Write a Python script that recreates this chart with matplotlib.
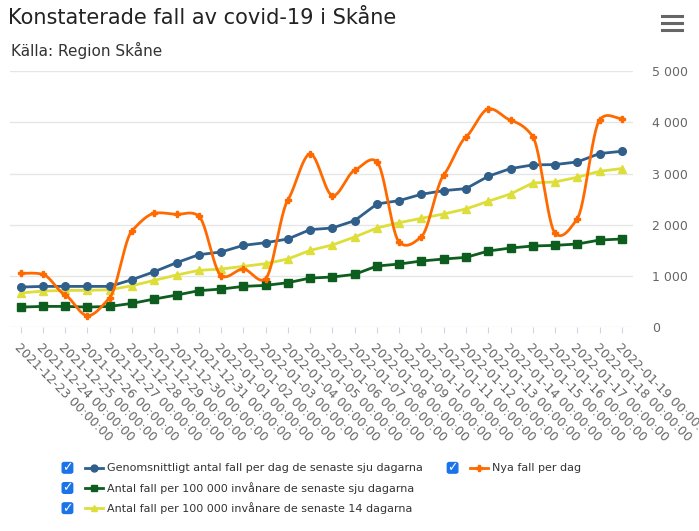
import numpy as np
import matplotlib.pyplot as plt
from matplotlib.patches import FancyBboxPatch
from matplotlib.ticker import FuncFormatter

dates = ["2021-12-23", "2021-12-24", "2021-12-25", "2021-12-26", "2021-12-27", "2021-12-28",
         "2021-12-29", "2021-12-30", "2021-12-31", "2022-01-01", "2022-01-02", "2022-01-03",
         "2022-01-04", "2022-01-05", "2022-01-06", "2022-01-07", "2022-01-08", "2022-01-09",
         "2022-01-10", "2022-01-11", "2022-01-12", "2022-01-13", "2022-01-14", "2022-01-15",
         "2022-01-16", "2022-01-17", "2022-01-18", "2022-01-19"]
labels = [d + " 00:00:00" for d in dates]

snitt7 = [782, 795, 795, 795, 795, 926, 1082, 1258, 1414, 1467, 1597, 1649, 1721, 1904,
          1936, 2080, 2405, 2471, 2595, 2666, 2705, 2947, 3097, 3168, 3175, 3227, 3390, 3435]
nya = [1050, 1030, 626, 222, 574, 1884, 2223, 2203, 2171, 1004, 1134, 945, 2484, 3383,
       2568, 3064, 3233, 1656, 1767, 2973, 3716, 4263, 4042, 3722, 1832, 2119, 4048, 4074]
per100k_7 = [391, 404, 404, 391, 404, 463, 548, 626, 711, 743, 795, 815, 867, 958,
             978, 1030, 1193, 1232, 1291, 1330, 1362, 1486, 1545, 1584, 1597, 1623, 1701, 1721]
per100k_14 = [665, 704, 717, 717, 730, 808, 913, 1017, 1108, 1134, 1186, 1239, 1330, 1499,
              1604, 1760, 1936, 2040, 2125, 2210, 2308, 2458, 2601, 2816, 2836, 2927, 3044, 3097]


def spline(y, n=12, k=0.55):
    # hermite-kurva bara for att rita linjen mjukt (k = spanning)
    y = np.asarray(y, float)
    p = np.concatenate([[y[0]], y, [y[-1]]])
    m = k * (p[2:] - p[:-2]) / 2
    xs, ys = [], []
    for i in range(len(y) - 1):
        t = np.linspace(0, 1, n, endpoint=False)
        h00 = 2 * t ** 3 - 3 * t ** 2 + 1
        h10 = t ** 3 - 2 * t ** 2 + t
        h01 = -2 * t ** 3 + 3 * t ** 2
        h11 = t ** 3 - t ** 2
        xs.extend(i + t)
        ys.extend(h00 * y[i] + h10 * m[i] + h01 * y[i + 1] + h11 * m[i + 1])
    xs.append(len(y) - 1)
    ys.append(y[-1])
    return xs, ys


c_blue = "#2f5f8a"
c_orange = "#ff6a00"
c_green = "#0d5e1e"
c_yellow = "#dede3a"

fig = plt.figure(figsize=(6.99, 5.31), dpi=100)
ax = fig.add_axes([0.0136, 0.384, 0.892, 0.482])
x = np.arange(len(dates))

ax.plot(x, per100k_14, color=c_yellow, lw=2, marker="^", ms=5.5, zorder=3)
ax.plot(x, per100k_7, color=c_green, lw=2, marker="s", ms=5.5, zorder=3)
ax.plot(x, snitt7, color=c_blue, lw=2, marker="o", ms=5.5, zorder=3)
sx, sy = spline(nya)
ax.plot(sx, sy, color=c_orange, lw=2, zorder=4)
ax.plot(x, nya, ls="none", color=c_orange, marker="P", ms=5, zorder=4)

ax.set_xlim(-0.5, len(dates) - 0.5)
ax.set_ylim(0, 5000)
ax.set_yticks(range(0, 5001, 1000))
ax.yaxis.set_major_formatter(FuncFormatter(lambda v, p: f"{int(v):,}".replace(",", " ")))
ax.yaxis.tick_right()
ax.tick_params(axis="y", length=0, labelsize=9, colors="#666666", pad=14)
ax.grid(axis="y", color="#e6e6e6", lw=1)
ax.set_axisbelow(True)
for s in ax.spines.values():
    s.set_visible(False)
ax.set_xticks(x)
ax.set_xticklabels(labels, rotation=-45, ha="left", rotation_mode="anchor",
                   fontsize=9, color="#666666")
ax.tick_params(axis="x", length=4, color="#ccd6eb", pad=6)

fig.text(0.012, 0.955, "Konstaterade fall av covid-19 i Skåne", fontsize=15, color="#222222")
fig.text(0.016, 0.895, "Källa: Region Skåne", fontsize=11, color="#333333")
for dy in (0.0, 0.013, 0.026):
    fig.add_artist(plt.Line2D([0.947, 0.975], [0.943 + dy, 0.943 + dy], color="#666666", lw=2.2))

# legend med kryssrutor
items = [(0.147, 0.121, c_blue, "o", "Genomsnittligt antal fall per dag de senaste sju dagarna"),
         (0.147, 0.083, c_green, "s", "Antal fall per 100 000 invånare de senaste sju dagarna"),
         (0.147, 0.045, c_yellow, "^", "Antal fall per 100 000 invånare de senaste 14 dagarna"),
         (0.698, 0.121, c_orange, "P", "Nya fall per dag")]
for lx, ly, col, mk, txt in items:
    fig.add_artist(FancyBboxPatch((lx - 0.058, ly - 0.012), 0.015, 0.02,
                                  boxstyle="round,pad=0,rounding_size=0.003",
                                  fc="#1a73e8", ec="#1a73e8", transform=fig.transFigure))
    fig.text(lx - 0.0505, ly - 0.002, "✓", color="white", fontsize=9, fontweight="bold",
             ha="center", va="center")
    fig.add_artist(plt.Line2D([lx - 0.026, lx], [ly - 0.002, ly - 0.002], color=col, lw=2))
    fig.add_artist(plt.Line2D([lx - 0.013], [ly - 0.002], color=col, marker=mk, ms=5))
    fig.text(lx + 0.0055, ly - 0.002, txt, fontsize=8, color="#333333", va="center")

fig.savefig("out.png", dpi=100, facecolor="white")
